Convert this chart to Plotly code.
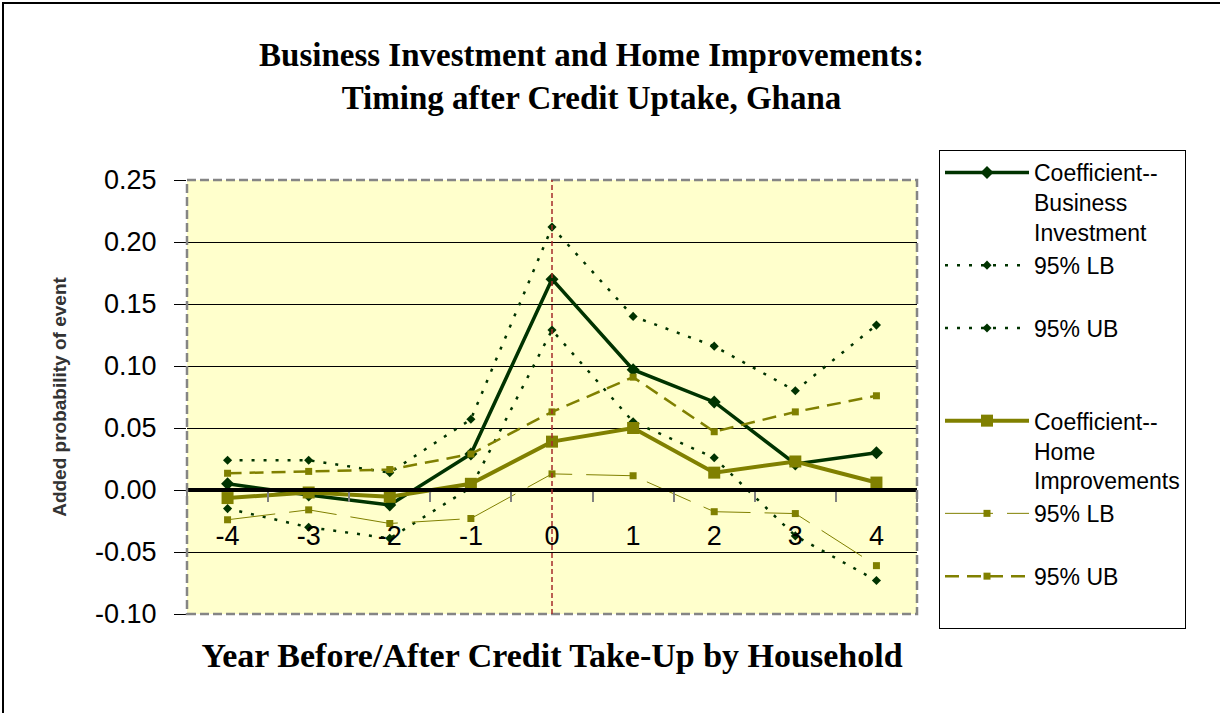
import plotly.graph_objects as go

# ---- data ----
years = [-4, -3, -2, -1, 0, 1, 2, 3, 4]
biz_coef = [0.005, -0.004, -0.012, 0.029, 0.170, 0.097, 0.071, 0.021, 0.030]
biz_lb = [-0.015, -0.030, -0.039, 0.002, 0.129, 0.055, 0.026, -0.037, -0.073]
biz_ub = [0.024, 0.024, 0.014, 0.057, 0.212, 0.140, 0.116, 0.080, 0.133]
home_coef = [-0.0065, -0.002, -0.0055, 0.005, 0.039, 0.050, 0.014, 0.023, 0.006]
home_lb = [-0.024, -0.016, -0.027, -0.023, 0.013, 0.0115, -0.0175, -0.019, -0.061]
home_ub = [0.0135, 0.015, 0.0165, 0.029, 0.063, 0.091, 0.047, 0.063, 0.076]

y_ticks = [-0.10, -0.05, 0.00, 0.05, 0.10, 0.15, 0.20, 0.25]
y_ticktext = ["-0.10", "-0.05", "0.00", "0.05", "0.10", "0.15", "0.20", "0.25"]
x_ticktext = ["-4", "-3", "-2", "-1", "0", "1", "2", "3", "4"]

DKGREEN = "#003300"
OLIVE = "#808000"
SANS = "Arial, Liberation Sans, sans-serif"
SERIF = "Liberation Serif, Times New Roman, serif"

W, H = 1220, 713
L, R, T, B = 187, 917, 180, 614


def xp(px):
    return (px - L) / (R - L)


def yp(py):
    return (B - py) / (B - T)


fig = go.Figure()

fig.add_trace(go.Scatter(
    x=years, y=biz_coef, mode="lines+markers",
    name="Coefficient--<br>Business<br>Investment",
    line=dict(color=DKGREEN, width=3.5),
    marker=dict(symbol="diamond", size=10, color=DKGREEN)))
fig.add_trace(go.Scatter(
    x=years, y=biz_lb, mode="lines+markers",
    name="95% LB<br> ",
    line=dict(color=DKGREEN, width=2.5, dash="3px,9px"),
    marker=dict(symbol="diamond", size=7, color=DKGREEN)))
fig.add_trace(go.Scatter(
    x=years, y=biz_ub, mode="lines+markers",
    name="95% UB<br> <br> ",
    line=dict(color=DKGREEN, width=2.5, dash="3px,9px"),
    marker=dict(symbol="diamond", size=7, color=DKGREEN)))
fig.add_trace(go.Scatter(
    x=years, y=home_coef, mode="lines+markers",
    name="Coefficient--<br>Home<br>Improvements",
    line=dict(color=OLIVE, width=4),
    marker=dict(symbol="square", size=12, color=OLIVE)))
fig.add_trace(go.Scatter(
    x=years, y=home_lb, mode="lines+markers",
    name="95% LB<br> ",
    line=dict(color=OLIVE, width=1, dash="48px,14px"),
    marker=dict(symbol="square", size=7, color=OLIVE)))
fig.add_trace(go.Scatter(
    x=years, y=home_ub, mode="lines+markers",
    name="95% UB<br> ",
    line=dict(color=OLIVE, width=2.5, dash="14px,8px"),
    marker=dict(symbol="square", size=7, color=OLIVE)))

shapes = [
    # outer chart frame
    dict(type="rect", xref="paper", yref="paper",
         x0=xp(3), x1=xp(1240), y0=yp(740), y1=yp(3),
         line=dict(color="black", width=2), layer="below"),
    # dashed plot-area border
    dict(type="rect", xref="paper", yref="paper", x0=0, x1=1, y0=0, y1=1,
         line=dict(color="#858585", width=2.5, dash="9px,4px"), layer="above"),
    # vertical reference line at year 0
    dict(type="line", xref="x", yref="paper", x0=0, x1=0, y0=0, y1=1,
         line=dict(color="#A52A2A", width=1.5, dash="5px,3px"), layer="above"),
]

fig.update_layout(
    width=W, height=H, autosize=False,
    margin=dict(l=L, r=W - R, t=T, b=H - B, autoexpand=False),
    paper_bgcolor="white", plot_bgcolor="#FFFFCC",
    title=dict(
        text="<b>Business Investment and Home Improvements:<br>Timing after Credit Uptake, Ghana</b>",
        font=dict(family=SERIF, size=33, color="black"),
        xref="container", yref="container",
        x=591.5 / W, xanchor="center", y=1 - 66 / H, yanchor="top"),
    shapes=shapes,
    showlegend=True,
    legend=dict(
        xref="container", yref="container",
        x=939 / W, xanchor="left", y=1 - 150 / H, yanchor="top",
        bgcolor="white", bordercolor="black", borderwidth=1,
        font=dict(family=SANS, size=23, color="black"),
        valign="top", itemwidth=84, traceorder="normal",
        maxheight=700,
        itemclick=False, itemdoubleclick=False),
    xaxis=dict(
        range=[-4.5, 4.5], anchor="free", position=0.1 / 0.35,
        tickvals=years, ticktext=x_ticktext,
        ticks="", showgrid=False, zeroline=False,
        showline=True, linecolor="black", linewidth=3.5,
        tickfont=dict(family=SANS, size=27, color="black"),
        ticklabelstandoff=21,
        minor=dict(ticks="outside", ticklen=10, tickcolor="#808080",
                   tickwidth=1.5, tick0=-4.5, dtick=1, showgrid=False),
        title=dict(text="<b>Year Before/After Credit Take-Up by Household</b>",
                   font=dict(family=SERIF, size=34, color="black"),
                   standoff=92),
    ),
    yaxis=dict(
        range=[-0.10, 0.25], tickvals=y_ticks, ticktext=y_ticktext,
        ticks="outside", ticklen=12, tickcolor="black", tickwidth=1,
        showgrid=True, gridcolor="black", gridwidth=1,
        zeroline=False, showline=False,
        tickfont=dict(family=SANS, size=27, color="black"),
        ticklabelstandoff=12,
        title=dict(text="<b>Added probability of event</b>",
                   font=dict(family=SANS, size=19, color="#333333"),
                   standoff=23),
    ),
)

fig.write_html("out.html", config={"displayModeBar": False},
               post_script="document.body.style.margin='0';")
